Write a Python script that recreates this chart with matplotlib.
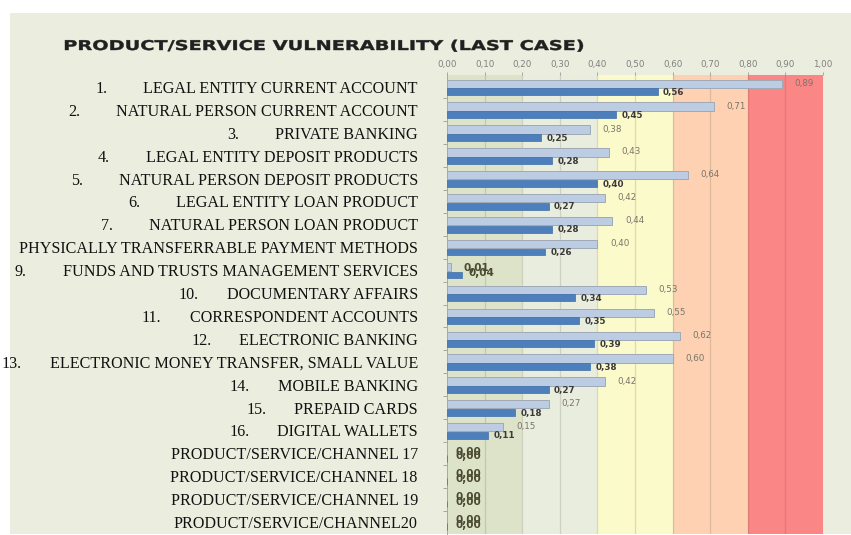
import matplotlib

matplotlib.use("Agg")
import matplotlib.pyplot as plt
from matplotlib.font_manager import FontProperties
from matplotlib.patches import PathPatch
from matplotlib.textpath import TextPath
from matplotlib.transforms import Affine2D
from matplotlib.ticker import FuncFormatter

# ---- data -------------------------------------------------------------------
numbers = ["1.", "2.", "3.", "4.", "5.", "6.", "7.", "", "9.", "10.",
           "11.", "12.", "13.", "14.", "15.", "16.", "", "", "", ""]
categories = [
    "LEGAL ENTITY CURRENT ACCOUNT",
    "NATURAL PERSON CURRENT ACCOUNT",
    "PRIVATE BANKING",
    "LEGAL ENTITY DEPOSIT PRODUCTS",
    "NATURAL PERSON DEPOSIT PRODUCTS",
    "LEGAL ENTITY LOAN PRODUCT",
    "NATURAL PERSON LOAN PRODUCT",
    "PHYSICALLY TRANSFERRABLE PAYMENT METHODS",
    "FUNDS AND TRUSTS MANAGEMENT SERVICES",
    "DOCUMENTARY AFFAIRS",
    "CORRESPONDENT ACCOUNTS",
    "ELECTRONIC BANKING",
    "ELECTRONIC MONEY TRANSFER, SMALL VALUE",
    "MOBILE BANKING",
    "PREPAID CARDS",
    "DIGITAL WALLETS",
    "PRODUCT/SERVICE/CHANNEL 17",
    "PRODUCT/SERVICE/CHANNEL 18",
    "PRODUCT/SERVICE/CHANNEL 19",
    "PRODUCT/SERVICE/CHANNEL20",
]
inherent = [0.89, 0.71, 0.38, 0.43, 0.64, 0.42, 0.44, 0.40, 0.01, 0.53,
            0.55, 0.62, 0.60, 0.42, 0.27, 0.15, 0.00, 0.00, 0.00, 0.00]
residual = [0.56, 0.45, 0.25, 0.28, 0.40, 0.27, 0.28, 0.26, 0.04, 0.34,
            0.35, 0.39, 0.38, 0.27, 0.18, 0.11, 0.00, 0.00, 0.00, 0.00]
zone_edges = [0.0, 0.2, 0.4, 0.6, 0.8, 1.0]
zone_colors = ["#dde3c8", "#e9eddd", "#fbfaca", "#fdd1b2", "#fb8686"]
title = "PRODUCT/SERVICE VULNERABILITY (LAST CASE)"

BG = "#ebeedf"
LIGHT = "#bccce2"
DARK = "#4d7fbc"
SERIF = dict(fontfamily="Liberation Serif", fontsize=11.6, color="#111111")

fig = plt.figure(figsize=(8.51, 5.35), dpi=100, facecolor="white")
W, H = 851, 535

# light panel behind everything
bg = fig.add_axes([10 / W, 1 / H, 1 - 10 / W, (H - 14) / H], zorder=-5)
bg.set_axis_off()
bg.add_patch(plt.Rectangle((0, 0), 1, 1, transform=bg.transAxes, color=BG, lw=0))

ax = fig.add_axes([447 / W, 1 / H, (823 - 447) / W, (534 - 75) / H], zorder=1)
ax.set_facecolor(BG)

for lo, hi, col in zip(zone_edges[:-1], zone_edges[1:], zone_colors):
    ax.axvspan(lo, hi, color=col, zorder=0, lw=0)
for x in [i / 10 for i in range(1, 10)]:
    ax.axvline(x, color=(0.35, 0.3, 0.2, 0.18), lw=0.9, zorder=1)

ys = list(range(len(categories)))
ax.barh([y - 0.14 for y in ys], inherent, height=0.36, color=LIGHT,
        edgecolor="#a0a9b6", lw=0.7, zorder=3)
ax.barh([y + 0.21 for y in ys], residual, height=0.3, color=DARK,
        edgecolor="#3f6ea8", lw=0.5, zorder=3)

fmt = lambda v: f"{v:.2f}".replace(".", ",")
for y, a, b in zip(ys, inherent, residual):
    if a < 0.05 and b < 0.05:
        # tiny values: the two labels sit almost on top of each other
        ax.annotate(fmt(a), (a, y - 0.08), xytext=(9 if a > 0 else 6, 0), textcoords="offset points",
                    fontsize=7.5, color="#4a4a30", fontweight="bold", va="center", zorder=4)
        ax.annotate(fmt(b), (b, y + 0.12), xytext=(5 if b > 0 else 6, 0), textcoords="offset points",
                    fontsize=7.5, color="#4a4a30", fontweight="bold", va="center", zorder=4)
    else:
        ax.annotate(fmt(a), (a, y - 0.16), xytext=(9, 0), textcoords="offset points",
                    fontsize=6.3, color="#7a756a", va="center", zorder=4)
        ax.annotate(fmt(b), (b, y + 0.24), xytext=(4, 0), textcoords="offset points",
                    fontsize=6.3, color="#3a3a3a", fontweight="bold", va="center", zorder=4)

ax.set_xlim(0, 1.0)
ax.set_ylim(len(categories) - 0.48, -0.52)
ax.xaxis.tick_top()
ax.set_xticks([i / 10 for i in range(11)])
ax.xaxis.set_major_formatter(FuncFormatter(lambda v, p: fmt(v)))
ax.tick_params(axis="x", length=2, width=0.6, color="#9a9a9a", labelsize=6.3,
               labelcolor="#808080", pad=2)

ax.set_yticks(ys)
ax.set_yticklabels(categories, **SERIF)
ax.set_yticks([y + 0.5 for y in ys[:-1]], minor=True)
ax.tick_params(axis="y", which="major", length=0, pad=21)
ax.tick_params(axis="y", which="minor", length=3, width=0.6, color="#9a9a9a")

for s in ["right", "bottom", "top"]:
    ax.spines[s].set_visible(False)
ax.spines["left"].set_color("#a8a8a8")
ax.spines["left"].set_linewidth(0.7)

# list numbers sit at a fixed tab before each label
renderer = fig.canvas.get_renderer()
for num, lab in zip(numbers, ax.get_yticklabels()):
    if not num:
        continue
    bb = lab.get_window_extent(renderer)
    x0 = bb.x0 - 48
    fig.text(x0 / W, (bb.y0 + bb.y1) / 2 / H, num, ha="left", va="center", **SERIF)

# wide, letter-spaced title drawn as a stretched text path
tp = TextPath((0, 0), title, size=13.5, prop=FontProperties(family="DejaVu Sans", weight="bold"))
ext = tp.get_extents()
sx = (583 - 65) / ext.width
tr = Affine2D().translate(-ext.x0, 0).scale(sx, 1.0).translate(65, H - 50)
fig.patches.append(PathPatch(tp, transform=tr, facecolor="#202020", edgecolor="#202020",
                             lw=0.3, figure=fig))

fig.savefig("out.png", dpi=100, facecolor="white")
